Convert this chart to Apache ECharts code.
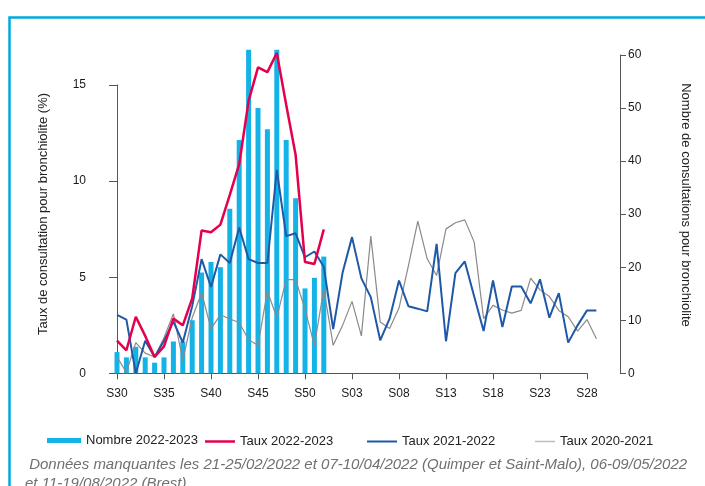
<!DOCTYPE html>
<html><head><meta charset="utf-8">
<script src="https://cdn.jsdelivr.net/npm/echarts@6/dist/echarts.min.js"></script>
<style>html,body{margin:0;padding:0;background:#fff}#c{width:705px;height:486px}</style>
</head><body><div id="c"></div>
<script>
const weeks = ['S30','S31','S32','S33','S34','S35','S36','S37','S38','S39','S40','S41','S42','S43','S44','S45','S46','S47','S48','S49','S50','S51','S52',
  'S01','S02','S03','S04','S05','S06','S07','S08','S09','S10','S11','S12','S13','S14','S15','S16','S17','S18','S19','S20','S21','S22','S23','S24','S25','S26','S27','S28','S29'];
const nombre2223 = [4,3,5,3,2,3,6,6,10,19,21,20,31,44,61,50,46,61,44,33,16,18,22];
const taux2223 = [1.7,1.2,2.95,1.95,0.85,1.4,2.85,2.5,3.9,7.45,7.35,7.75,9.3,10.9,14.2,15.95,15.7,16.7,14.0,11.4,5.8,5.7,7.5];
const taux2122 = [3.05,2.8,0.0,1.7,0.85,1.7,2.7,1.6,3.5,5.95,4.5,6.2,5.75,7.6,5.95,5.75,5.75,10.6,7.15,7.3,6.05,6.35,5.55,
  2.3,5.25,7.1,4.95,3.97,1.72,2.85,4.84,3.5,3.37,3.23,6.75,1.67,5.22,5.83,4.0,2.2,4.84,2.41,4.53,4.53,3.65,4.9,2.9,4.18,1.6,2.5,3.28,3.28];
const taux2021 = [0.85,0.05,1.6,1.05,0.85,1.85,3.1,0.68,2.9,4.2,2.33,3.05,2.83,2.65,1.75,1.46,4.3,2.9,4.88,4.88,3.35,1.46,4.4,
  1.46,2.5,3.75,1.95,7.15,2.67,2.33,3.4,5.6,7.93,5.97,5.1,7.53,7.85,8.0,6.84,2.85,3.54,3.3,3.14,3.28,4.96,4.35,4.0,3.28,2.95,2.2,2.8,1.8];
const leftTicks = [0,5,10,15];
const rightTicks = [0,10,20,30,40,50,60];
const seriesNames = ['Nombre 2022-2023','Taux 2022-2023','Taux 2021-2022','Taux 2020-2021'];
const footnote1 = ' Données manquantes les 21-25/02/2022 et 07-10/04/2022 (Quimper et Saint-Malo), 06-09/05/2022';
const footnote2 = 'et 11-19/08/2022 (Brest)';

const FONT = "'Liberation Sans', Arial, sans-serif";
const C_BAR = '#14b3e7', C_RED = '#e5004f', C_BLUE = '#1f58a6', C_GRAY = '#8a8a8a';
const AXC = '#555';
const pxPerLeft = 19.18;
const gridTop = 55, gridBottomY = 373.3;
const leftMax = (gridBottomY - gridTop) / pxPerLeft;

const chart = echarts.init(document.getElementById('c'), null, {renderer:'canvas'});
const legendBase = {top: 433, textStyle:{fontFamily:FONT,fontSize:13,color:'#222'}, selectedMode:false, itemWidth:30, padding:0, icon:'rect'};
chart.setOption({
  animation:false,
  backgroundColor:'#fff',
  grid:[
    {left:117, top:gridTop, width:51*9.4, height:gridBottomY-gridTop},
    {left:117, top:85, width:50*9.4, height:gridBottomY-85}
  ],
  xAxis:[
    {gridIndex:0, type:'category', data:weeks, boundaryGap:false, show:false},
    {gridIndex:1, type:'value', min:0, max:50, interval:5, offset:4,
     axisLine:{show:true, lineStyle:{color:AXC, width:1}},
     axisTick:{show:true, length:6, lineStyle:{color:AXC}},
     axisLabel:{margin:10, fontFamily:FONT, fontSize:12, color:'#1a1a1a', formatter:v=>weeks[v]},
     splitLine:{show:false}}
  ],
  yAxis:[
    {gridIndex:0, type:'value', min:0, max:leftMax, show:false, splitLine:{show:false}},
    {gridIndex:0, type:'value', position:'right', min:rightTicks[0], max:rightTicks[rightTicks.length-1], interval:10, offset:620-(117+51*9.4),
     axisLine:{show:true, lineStyle:{color:AXC}},
     axisTick:{show:true, length:6, lineStyle:{color:AXC}},
     axisLabel:{margin:8, fontFamily:FONT, fontSize:12, color:'#1a1a1a'},
     splitLine:{show:false}},
    {gridIndex:1, type:'value', position:'left', min:leftTicks[0], max:leftTicks[leftTicks.length-1], interval:5, offset:20,
     axisLine:{show:true, lineStyle:{color:AXC}},
     axisTick:{show:true, length:8, lineStyle:{color:AXC}},
     axisLabel:{margin:11, fontFamily:FONT, fontSize:12, color:'#1a1a1a'},
     splitLine:{show:false}}
  ],
  legend:[
    Object.assign({}, legendBase, {left:47, top:434, data:[seriesNames[0]], itemWidth:34, itemHeight:5}),
    Object.assign({}, legendBase, {left:205, top:435, data:[seriesNames[1]], itemHeight:2.5}),
    Object.assign({}, legendBase, {left:367, top:435, data:[seriesNames[2]], itemHeight:2}),
    Object.assign({}, legendBase, {left:535, top:435, data:[seriesNames[3]], itemWidth:20, itemHeight:1.5})
  ],
  series:[
    {name:seriesNames[0], type:'bar', xAxisIndex:0, yAxisIndex:1, data:nombre2223, barWidth:5, clip:false,
     itemStyle:{color:C_BAR}},
    {name:seriesNames[3], type:'line', xAxisIndex:0, yAxisIndex:0, data:taux2021, symbol:'none', clip:false,
     lineStyle:{color:C_GRAY, width:1.2}, itemStyle:{color:'#bdbdbd'}},
    {name:seriesNames[2], type:'line', xAxisIndex:0, yAxisIndex:0, data:taux2122, symbol:'none', clip:false,
     lineStyle:{color:C_BLUE, width:2}, itemStyle:{color:C_BLUE}},
    {name:seriesNames[1], type:'line', xAxisIndex:0, yAxisIndex:0, data:taux2223, symbol:'none', clip:false,
     lineStyle:{color:C_RED, width:2.5}, itemStyle:{color:C_RED}}
  ],
  graphic:[
    {type:'rect', shape:{x:9.5, y:17.5, width:900, height:700}, style:{fill:null, stroke:'#00a9e0', lineWidth:2.5}, silent:true},
    {type:'text', x:43, y:214, rotation:Math.PI/2, style:{text:'Taux de consultation pour bronchiolite (%)', fontFamily:FONT, fontSize:13, fill:'#222', align:'center', verticalAlign:'middle'}},
    {type:'text', x:686, y:205, rotation:-Math.PI/2, style:{text:'Nombre de consultations pour bronchiolite', fontFamily:FONT, fontSize:13, fill:'#222', align:'center', verticalAlign:'middle'}},
    {type:'text', x:25, y:465, style:{text:footnote1, fontFamily:FONT, fontSize:15, fontStyle:'italic', fill:'#707070', verticalAlign:'middle'}},
    {type:'text', x:25, y:484, style:{text:footnote2, fontFamily:FONT, fontSize:15, fontStyle:'italic', fill:'#707070', verticalAlign:'middle'}}
  ]
});
</script></body></html>
